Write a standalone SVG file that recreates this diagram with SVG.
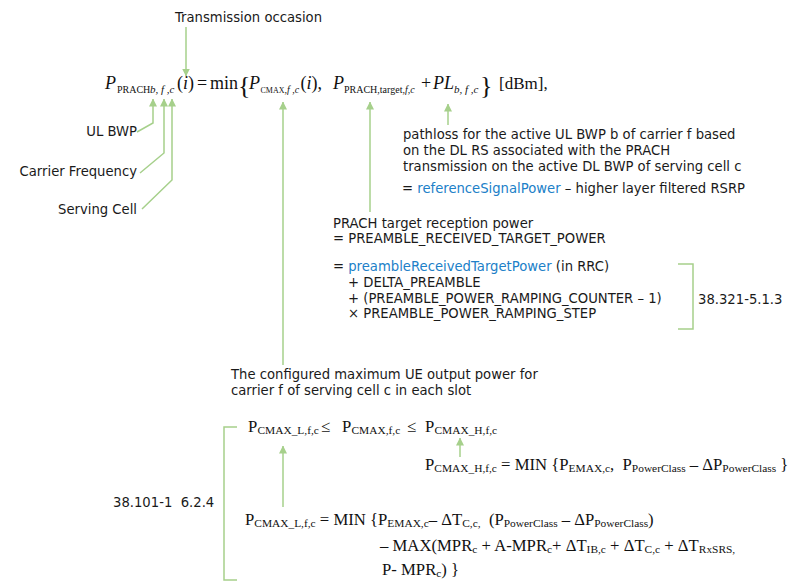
<svg xmlns="http://www.w3.org/2000/svg" width="797" height="586" viewBox="0 0 797 586">
<defs>
<style>
.t{font-family:"DejaVu Sans","Verdana",sans-serif;font-size:13.2px;fill:#1a1a1a}
.b{fill:#2080c8}
.f{font-family:"Liberation Serif","Times New Roman",serif;font-size:18px;fill:#111}
.it{font-style:italic}
.s{font-size:10px}
.s2{font-size:8px}
.si{font-size:11px;font-style:italic}
.sj{font-size:10px;font-style:italic}
.big{font-size:26px}
.u{font-size:17px}
.g{font-family:"Liberation Serif","Times New Roman",serif;font-size:16.7px;fill:#111}
.gs{font-size:11.4px}
.ln{fill:none;stroke:#a6d08b;stroke-width:1.5}
</style>
<marker id="ah" viewBox="0 0 8 8" refX="7.5" refY="4" markerWidth="8" markerHeight="8" markerUnits="userSpaceOnUse" orient="auto">
<path d="M0,0 L8,4 L0,8 z" fill="#a6d08b"/>
</marker>
</defs>

<g id="connectors">
<path class="ln" d="M186,27 V76" marker-end="url(#ah)"/>
<path class="ln" d="M137,132 L153,123 V99" marker-end="url(#ah)"/>
<path class="ln" d="M140,173 L164,153 V99" marker-end="url(#ah)"/>
<path class="ln" d="M142,209 L172,180 V99" marker-end="url(#ah)"/>
<path class="ln" d="M283,365 V102" marker-end="url(#ah)"/>
<path class="ln" d="M370,212 V102" marker-end="url(#ah)"/>
<path class="ln" d="M448,125 V104" marker-end="url(#ah)"/>
<path class="ln" d="M460,457 V438" marker-end="url(#ah)"/>
<path class="ln" d="M283,507 V446" marker-end="url(#ah)"/>
<path class="ln" d="M678,264 H693 V329 H678"/>
<path class="ln" d="M237,427 H224 V580 H237"/>
</g>

<g id="transmission-occasion">
<text class="t" x="175" y="22">Transmission occasion</text>
</g>

<g id="main-formula">
<text class="f" y="89" xml:space="preserve"><tspan x="105" class="it">P</tspan><tspan x="117" y="93" class="s">PRACH</tspan><tspan x="150" class="si">b, f ,c</tspan><tspan x="177" y="89">(</tspan><tspan class="it">i</tspan><tspan>)</tspan><tspan x="197">=</tspan><tspan x="210">min</tspan><tspan x="238" y="94" class="big">{</tspan><tspan x="249" y="89" class="it">P</tspan><tspan x="260.5" y="93" class="s2">CMAX</tspan><tspan class="sj">,f ,c</tspan><tspan x="300.5" y="89">(</tspan><tspan class="it">i</tspan><tspan>),</tspan><tspan x="333" class="it">P</tspan><tspan x="344" y="93" class="s">PRACH,target,</tspan><tspan class="sj">f,c</tspan><tspan x="421" y="89">+</tspan><tspan x="433" class="it">PL</tspan><tspan x="454" y="93" class="si">b, f ,c</tspan><tspan x="480" y="94" class="big">}</tspan><tspan x="499" y="89" class="u">[dBm],</tspan></text>
</g>

<g id="label-ul-bwp"><text class="t" x="137" y="136" text-anchor="end">UL BWP</text></g>
<g id="label-carrier"><text class="t" x="137" y="176" text-anchor="end">Carrier Frequency</text></g>
<g id="label-cell"><text class="t" x="137" y="214" text-anchor="end">Serving Cell</text></g>

<g id="pathloss">
<text class="t" x="403" y="139">pathloss for the active UL BWP b of carrier f based</text>
<text class="t" x="403" y="155">on the DL RS associated with the PRACH</text>
<text class="t" x="403" y="171">transmission on the active DL BWP of serving cell c</text>
<text class="t" x="402" y="193">= <tspan class="b">referenceSignalPower</tspan> – higher layer filtered RSRP</text>
</g>

<g id="prach-target">
<text class="t" x="333" y="228">PRACH target reception power</text>
<text class="t" x="333" y="243">= PREAMBLE_RECEIVED_TARGET_POWER</text>
<text class="t" x="333" y="271">= <tspan class="b">preambleReceivedTargetPower</tspan> (in RRC)</text>
<text class="t" x="348" y="287">+ DELTA_PREAMBLE</text>
<text class="t" x="348" y="303">+ (PREAMBLE_POWER_RAMPING_COUNTER – 1)</text>
<text class="t" x="348" y="318">× PREAMBLE_POWER_RAMPING_STEP</text>
</g>

<g id="ref-38321"><text class="t" x="698" y="304">38.321-5.1.3</text></g>

<g id="pcmax-desc">
<text class="t" x="231" y="379">The configured maximum UE output power for</text>
<text class="t" x="231" y="395">carrier f of serving cell c in each slot</text>
</g>

<g id="pcmax-range">
<text class="g" y="432"><tspan x="248">P</tspan><tspan x="257.5" y="434" class="gs">CMAX_L,f,c</tspan><tspan x="321" y="432">≤</tspan><tspan x="342">P</tspan><tspan x="351.5" y="434" class="gs">CMAX,f,c</tspan><tspan x="407" y="432">≤</tspan><tspan x="425">P</tspan><tspan x="434.5" y="434" class="gs">CMAX_H,f,c</tspan></text>
</g>

<g id="pcmax-h">
<text class="g" x="425" y="470" xml:space="preserve">P<tspan class="gs" dy="2">CMAX_H,f,c</tspan><tspan dy="-2"> = MIN {P</tspan><tspan class="gs" dy="2">EMAX,c</tspan><tspan dy="-2">,  P</tspan><tspan class="gs" dy="2">PowerClass</tspan><tspan dy="-2"> – ΔP</tspan><tspan class="gs" dy="2">PowerClass</tspan><tspan dy="-2"> }</tspan></text>
</g>

<g id="ref-38101"><text class="t" x="113" y="507" xml:space="preserve">38.101-1  6.2.4</text></g>

<g id="pcmax-l">
<text class="g" x="245" y="525" xml:space="preserve">P<tspan class="gs" dy="2">CMAX_L,f,c</tspan><tspan dy="-2"> = MIN {P</tspan><tspan class="gs" dy="2">EMAX,c</tspan><tspan dy="-2">– ΔT</tspan><tspan class="gs" dy="2">C,c,</tspan><tspan dy="-2">  (P</tspan><tspan class="gs" dy="2">PowerClass</tspan><tspan dy="-2"> – ΔP</tspan><tspan class="gs" dy="2">PowerClass</tspan><tspan dy="-2">)</tspan></text>
<text class="g" x="380" y="551" xml:space="preserve">– MAX(MPR<tspan class="gs" dy="2">c</tspan><tspan dy="-2"> + A-MPR</tspan><tspan class="gs" dy="2">c</tspan><tspan dy="-2">+ ΔT</tspan><tspan class="gs" dy="2">IB,c</tspan><tspan dy="-2"> + ΔT</tspan><tspan class="gs" dy="2">C,c</tspan><tspan dy="-2"> + ΔT</tspan><tspan class="gs" dy="2">RxSRS,</tspan></text>
<text class="g" x="382" y="575" xml:space="preserve">P- MPR<tspan class="gs" dy="2">c</tspan><tspan dy="-2">) }</tspan></text>
</g>
</svg>
